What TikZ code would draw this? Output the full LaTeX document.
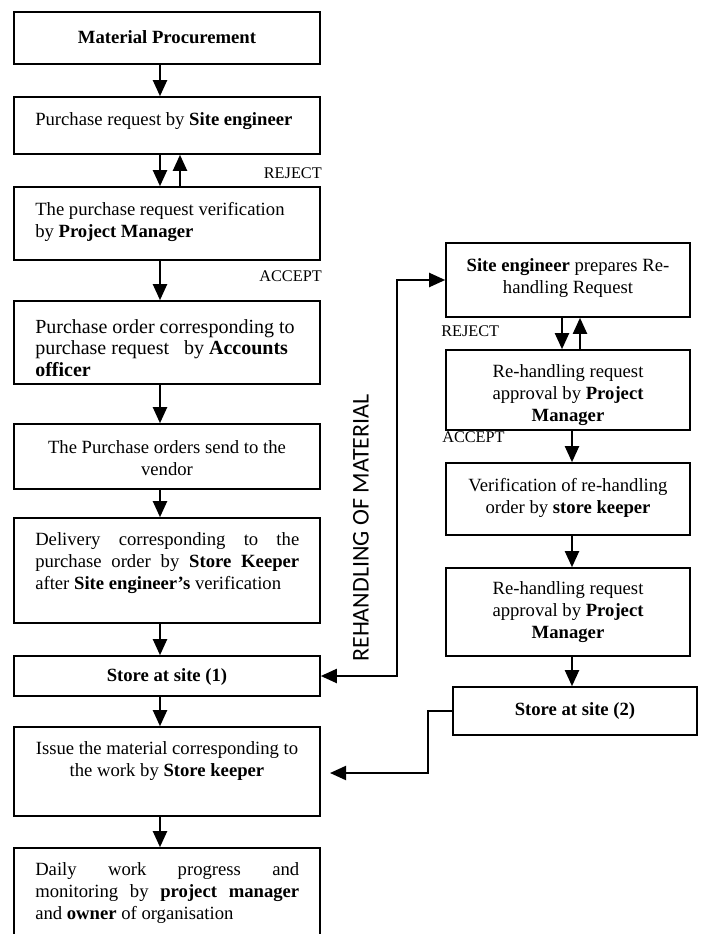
\documentclass[tikz,border=0pt]{standalone}
\usepackage{fontspec}
\setmainfont{Liberation Serif}
\newfontfamily\sidefont{Carlito}
\usetikzlibrary{arrows.meta,fit}
\begin{document}
\begin{tikzpicture}[x=0.75pt,y=-0.75pt,
  box/.style={draw, line width=1.2pt, inner sep=0pt},
  txt/.style={font=\fontsize{14}{16.2}\selectfont, inner sep=0pt},
  txtb/.style={font=\fontsize{15}{16.2}\selectfont, inner sep=0pt},
  lab/.style={font=\fontsize{12.2}{14}\selectfont, inner sep=0pt},
  side/.style={font=\sidefont\fontsize{18}{20}\selectfont, inner sep=0pt, rotate=90},
  arr/.style={line width=1.5pt, -{Triangle[length=12pt,width=10.5pt]}},
  arrb/.style={line width=1.5pt, {Triangle[length=12pt,width=10.5pt]}-{Triangle[length=12pt,width=10.5pt]}},
]
\useasboundingbox (0,0) rectangle (701,934);
\clip (0,0) rectangle (701,934);

% left column boxes
\node[box, fit={(14,12) (320,64)}] (b1) {};
\node[box, fit={(14,97) (320,154)}] (b2) {};
\node[box, fit={(14,187) (320,260)}] (b3) {};
\node[box, fit={(14,301) (320,384)}] (b4) {};
\node[box, fit={(14,424) (320,489)}] (b5) {};
\node[box, fit={(14,518) (320,623)}] (b6) {};
\node[box, fit={(14,656) (320,696)}] (b7) {};
\node[box, fit={(14,727) (320,816)}] (b8) {};
\node[box, fit={(14,848) (320,950)}] (b9) {};

% right column boxes
\node[box, fit={(446,243) (690,317)}] (r1) {};
\node[box, fit={(446,350) (690,430)}] (r2) {};
\node[box, fit={(446,463) (690,535)}] (r3) {};
\node[box, fit={(446,568) (690,656)}] (r4) {};
\node[box, fit={(453,687) (697,735)}] (r5) {};

% left texts
\node[txt] (t1) at (167,37) {\textbf{Material Procurement}};
\node[txt, anchor=west] (t2) at (35,121) {Purchase request by \textbf{Site engineer}};
\node[txt, anchor=west, align=left] (t3) at (35,222) {The purchase request verification\\by \textbf{Project Manager}};
\node[txtb, anchor=west, align=left] (t4) at (35,348) {Purchase order corresponding to\\purchase request \ \ by \textbf{Accounts}\\\textbf{officer}};
\node[txt, align=center] (t5) at (167,458) {The Purchase orders send to the\\vendor};
\node[txt, anchor=west, align=left] (t6) at (35,563) {\makebox[198pt][s]{Delivery corresponding to the}\\\makebox[198pt][s]{purchase order by \textbf{Store Keeper}}\\after \textbf{Site engineer's} verification};
\node[txt] (t7) at (167,677) {\textbf{Store at site (1)}};
\node[txt, align=center] (t8) at (167,761) {Issue the material corresponding to\\the work by \textbf{Store keeper}};
\node[txt, anchor=west, align=left] (t9) at (35,893) {\makebox[198pt][s]{Daily work progress and}\\\makebox[198pt][s]{monitoring by \textbf{project manager}}\\and \textbf{owner} of organisation};

% right texts
\node[txt, align=center] (s1) at (568,278) {\textbf{Site engineer} prepares Re-\\handling Request};
\node[txt, align=center] (s2) at (568,395) {Re-handling request\\approval by \textbf{Project}\\\textbf{Manager}};
\node[txt, align=center] (s3) at (568,498) {Verification of re-handling\\order by \textbf{store keeper}};
\node[txt, align=center] (s4) at (568,612) {Re-handling request\\approval by \textbf{Project}\\\textbf{Manager}};
\node[txt] (s5) at (575,711) {\textbf{Store at site (2)}};

% labels
\node[lab, anchor=east] (l1) at (322,173) {REJECT};
\node[lab, anchor=east] (l2) at (322,276) {ACCEPT};
\node[lab, anchor=west] (l3) at (441,331) {REJECT};
\node[lab, anchor=west] (l4) at (442,437) {ACCEPT};
\node[side] (sd) at (361,528) {REHANDLING OF MATERIAL};

% helper coordinates
\coordinate (cl) at (160,0);
\coordinate (cu) at (180,0);
\coordinate (rd) at (562,0);
\coordinate (ru) at (580,0);
\coordinate (rc) at (572,0);
\coordinate (v1) at (397,0);
\coordinate (v2) at (428,0);
\coordinate (e8) at (330,773);

% left connectors
\draw[arr] (b1.south -| cl) -- (b2.north -| cl);
\draw[arr] (b2.south -| cl) -- (b3.north -| cl);
\draw[arr] (b3.north -| cu) -- (b2.south -| cu);
\draw[arr] (b3.south -| cl) -- (b4.north -| cl);
\draw[arr] (b4.south -| cl) -- (b5.north -| cl);
\draw[arr] (b5.south -| cl) -- (b6.north -| cl);
\draw[arr] (b6.south -| cl) -- (b7.north -| cl);
\draw[arr] (b7.south -| cl) -- (b8.north -| cl);
\draw[arr] (b8.south -| cl) -- (b9.north -| cl);

% right connectors
\draw[arr] (r1.south -| rd) -- (r2.north -| rd);
\draw[arr] (r2.north -| ru) -- (r1.south -| ru);
\draw[arr] (r2.south -| rc) -- (r3.north -| rc);
\draw[arr] (r3.south -| rc) -- (r4.north -| rc);
\draw[arr] (r4.south -| rc) -- (r5.north -| rc);

% cross connectors
\draw[arrb] (b7.east) -| (v1 |- r1.west) -- (r1.west);
\draw[arr] (r5.west) -| (v2 |- e8) -- (e8);
\end{tikzpicture}
\end{document}
